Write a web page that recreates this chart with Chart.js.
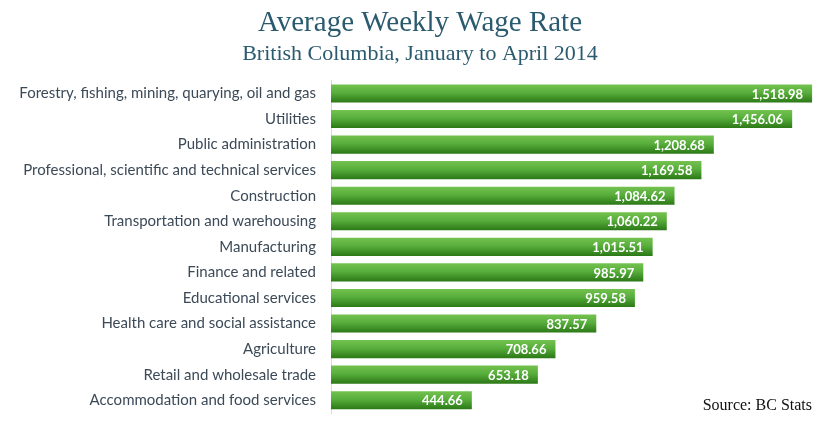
<!DOCTYPE html>
<html>
<head>
<meta charset="utf-8">
<script src="https://cdn.jsdelivr.net/npm/chart.js@4"></script>
<style>
  html, body { margin: 0; padding: 0; background: #ffffff; }
  #wrap { width: 840px; height: 422px; position: relative; }
</style>
</head>
<body>
<div id="wrap"><canvas id="c"></canvas></div>
<script>
const categories = [
  "Forestry, fishing, mining, quarying, oil and gas",
  "Utilities",
  "Public administration",
  "Professional, scientific and technical services",
  "Construction",
  "Transportation and warehousing",
  "Manufacturing",
  "Finance and related",
  "Educational services",
  "Health care and social assistance",
  "Agriculture",
  "Retail and wholesale trade",
  "Accommodation and food services"
];
const wages = [1518.98, 1456.06, 1208.68, 1169.58, 1084.62, 1060.22, 1015.51, 985.97, 959.58, 837.57, 708.66, 653.18, 444.66];
const titleText = "Average Weekly Wage Rate";
const subtitleText = "British Columbia, January to April 2014";
const sourceText = "Source: BC Stats";

const BAR_PCT = 0.71;

function barGradient(ctx) {
  const chart = ctx.chart;
  const ys = chart.scales && chart.scales.y;
  if (!ys || !chart.chartArea) return '#4ea636';
  const c = ys.getPixelForValue(ctx.dataIndex);
  const h = ys.height / categories.length * BAR_PCT;
  const g = chart.ctx.createLinearGradient(0, c - h / 2, 0, c + h / 2);
  g.addColorStop(0, '#74c24f');
  g.addColorStop(0.45, '#58ae3c');
  g.addColorStop(1, '#2b7816');
  return g;
}

const labelPlugin = {
  id: 'valueLabels',
  afterDatasetsDraw(chart) {
    const ctx = chart.ctx;
    const meta = chart.getDatasetMeta(0);
    ctx.save();
    ctx.font = 'bold 13px Lato, "DejaVu Sans", sans-serif';
    ctx.fillStyle = '#ffffff';
    ctx.textAlign = 'right';
    ctx.textBaseline = 'middle';
    meta.data.forEach((bar, i) => {
      const v = wages[i].toLocaleString('en-US', {minimumFractionDigits: 2, maximumFractionDigits: 2});
      ctx.fillText(v, bar.x - 9, bar.y + 1);
    });
    ctx.restore();
  }
};

const sourcePlugin = {
  id: 'sourceNote',
  afterDraw(chart) {
    const ctx = chart.ctx;
    ctx.save();
    ctx.font = '16px "Liberation Serif", "DejaVu Serif", serif';
    ctx.fillStyle = '#111111';
    ctx.textAlign = 'right';
    ctx.textBaseline = 'alphabetic';
    ctx.fillText(sourceText, 812, 410);
    ctx.restore();
  }
};

new Chart(document.getElementById('c'), {
  type: 'bar',
  data: {
    labels: categories,
    datasets: [{
      data: wages,
      backgroundColor: barGradient,
      borderWidth: 0,
      barPercentage: BAR_PCT,
      categoryPercentage: 1.0
    }]
  },
  options: {
    indexAxis: 'y',
    responsive: true,
    maintainAspectRatio: false,
    animation: false,
    devicePixelRatio: 1,
    layout: { padding: { top: 0, right: 7, bottom: 9, left: 7 } },
    plugins: {
      legend: { display: false },
      tooltip: { enabled: false },
      title: {
        display: true,
        text: titleText,
        color: '#2a5a6e',
        font: { family: '"Liberation Serif", "DejaVu Serif", serif', size: 29, weight: 'normal' },
        padding: { top: 6, bottom: 0 }
      },
      subtitle: {
        display: true,
        text: subtitleText,
        color: '#2a5a6e',
        font: { family: '"Liberation Serif", "DejaVu Serif", serif', size: 22, weight: 'normal' },
        padding: { top: 0, bottom: 13.5 }
      }
    },
    scales: {
      x: {
        display: false,
        min: 0,
        max: 1585
      },
      y: {
        grid: { display: false },
        border: { display: true, color: '#d9d9d9', width: 1 },
        afterFit(scale) {
          scale.width = 324;
          scale.paddingTop = 0;
          scale.paddingBottom = 0;
        },
        ticks: {
          color: '#3c4a58',
          padding: 7,
          font: { family: 'Lato, "Open Sans", sans-serif', size: 15 }
        }
      }
    }
  },
  plugins: [labelPlugin, sourcePlugin]
});
</script>
</body>
</html>
